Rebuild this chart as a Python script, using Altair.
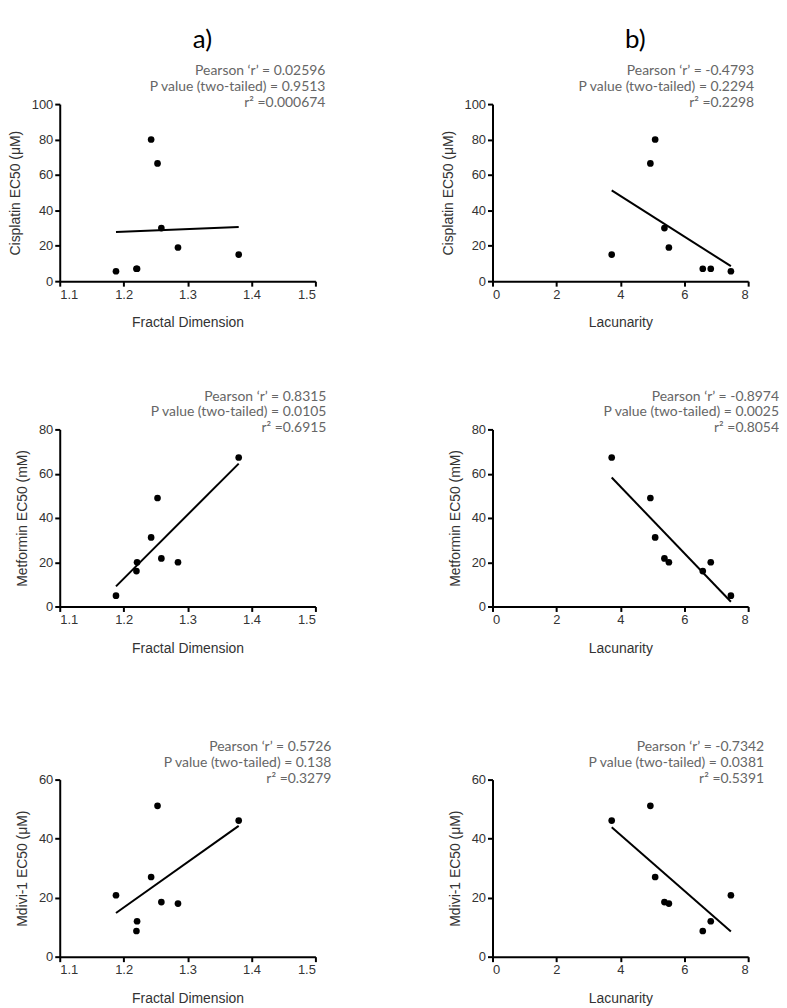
import altair as alt
import pandas as pd

# ---- data (8 cell lines) ----
fractal_dim = [1.188, 1.220, 1.221, 1.243, 1.253, 1.259, 1.285, 1.380]
lacunarity = [7.46, 6.58, 6.83, 5.09, 4.94, 5.38, 5.52, 3.73]
cisplatin_ec50 = [5.6, 7.0, 7.0, 80.0, 66.5, 30.0, 19.0, 15.0]
metformin_ec50 = [4.9, 16.0, 20.0, 31.2, 49.0, 21.7, 20.0, 67.3]
mdivi_ec50 = [20.8, 8.7, 12.0, 27.0, 51.1, 18.5, 18.0, 46.1]

fd_ticks = [1.1, 1.2, 1.3, 1.4, 1.5]
lac_ticks = [0, 2, 4, 6, 8]

headers = ["a)", "b)"]

stats_text = {
    "cis_fd": ["Pearson \u2018r\u2019 = 0.02596", "P value (two-tailed) = 0.9513", "r\u00b2 =0.000674"],
    "cis_lac": ["Pearson \u2018r\u2019 = -0.4793", "P value (two-tailed) = 0.2294", "r\u00b2 =0.2298"],
    "met_fd": ["Pearson \u2018r\u2019 = 0.8315", "P value (two-tailed) = 0.0105", "r\u00b2 =0.6915"],
    "met_lac": ["Pearson \u2018r\u2019 = -0.8974", "P value (two-tailed) = 0.0025", "r\u00b2 =0.8054"],
    "mdi_fd": ["Pearson \u2018r\u2019 = 0.5726", "P value (two-tailed) = 0.138", "r\u00b2 =0.3279"],
    "mdi_lac": ["Pearson \u2018r\u2019 = -0.7342", "P value (two-tailed) = 0.0381", "r\u00b2 =0.5391"],
}

W = 257
H = 178
AXFONT = "Liberation Sans"
TXTFONT = "Lato"


def axis(values, fmt, title, pad):
    return alt.Axis(
        values=values, format=fmt, title=title, titlePadding=pad, grid=False,
        domainColor="black", domainWidth=2, tickColor="black", tickWidth=2, tickSize=5,
        labelColor="#333333", labelFont=AXFONT, labelFontSize=13, labelPadding=2,
        titleColor="#333333", titleFont=AXFONT, titleFontSize=14, titleFontWeight="normal",
    )


def panel(xvals, yvals, xtitle, xdomain, xticks, xfmt, ytitle, ymax, ystep, lines, dx):
    df = pd.DataFrame({"x": xvals, "y": yvals})
    xenc = alt.X(
        "x:Q",
        scale=alt.Scale(domain=xdomain, nice=False, zero=False),
        axis=axis(xticks, xfmt, xtitle, 15),
    )
    yenc = alt.Y(
        "y:Q",
        scale=alt.Scale(domain=[0, ymax], nice=False),
        axis=axis(list(range(0, ymax + 1, ystep)), "d", ytitle, 9),
    )
    base = alt.Chart(df)
    fit = base.transform_regression("x", "y").mark_line(color="black", strokeWidth=2).encode(x=xenc, y=yenc)
    pts = base.mark_circle(size=45, color="black", opacity=1).encode(x=xenc, y=yenc)
    return alt.layer(fit, pts).properties(
        width=W,
        height=H,
        title=alt.TitleParams(
            text=lines,
            anchor="end",
            align="right",
            baseline="bottom",
            frame="group",
            offset=-26,
            dx=dx,
            font=TXTFONT,
            fontSize=14,
            fontWeight="normal",
            color="#666666",
            lineHeight=16,
        ),
    )


def spacer(h, label=""):
    df = pd.DataFrame({"t": [label]})
    return alt.Chart(df).mark_text(
        font=TXTFONT, fontSize=26, color="black", align="center", baseline="middle"
    ).encode(
        text="t:N", x=alt.value(W / 2 + 15), y=alt.value(30)
    ).properties(width=W, height=h)


p_cis_fd = panel(fractal_dim, cisplatin_ec50, "Fractal Dimension", [1.1, 1.5], fd_ticks, ".1f",
                 "Cisplatin EC50 (\u03bcM)", 100, 20, stats_text["cis_fd"], 10)
p_cis_lac = panel(lacunarity, cisplatin_ec50, "Lacunarity", [0, 8], lac_ticks, "d",
                  "Cisplatin EC50 (\u03bcM)", 100, 20, stats_text["cis_lac"], 6)
p_met_fd = panel(fractal_dim, metformin_ec50, "Fractal Dimension", [1.1, 1.5], fd_ticks, ".1f",
                 "Metformin EC50 (mM)", 80, 20, stats_text["met_fd"], 11)
p_met_lac = panel(lacunarity, metformin_ec50, "Lacunarity", [0, 8], lac_ticks, "d",
                  "Metformin EC50 (mM)", 80, 20, stats_text["met_lac"], 31)
p_mdi_fd = panel(fractal_dim, mdivi_ec50, "Fractal Dimension", [1.1, 1.5], fd_ticks, ".1f",
                 "Mdivi-1 EC50 (\u03bcM)", 60, 20, stats_text["mdi_fd"], 16)
p_mdi_lac = panel(lacunarity, mdivi_ec50, "Lacunarity", [0, 8], lac_ticks, "d",
                  "Mdivi-1 EC50 (\u03bcM)", 60, 20, stats_text["mdi_lac"], 16)

chart = alt.concat(
    spacer(94, headers[0]), spacer(94, headers[1]),
    p_cis_fd, p_cis_lac,
    spacer(149), spacer(149),
    p_met_fd, p_met_lac,
    spacer(174), spacer(174),
    p_mdi_fd, p_mdi_lac,
    columns=2,
    spacing={"row": 0, "column": 178},
    bounds="flush",
).properties(
    padding={"left": 0, "top": 0, "right": 0, "bottom": 0}
).configure_view(
    stroke=None
)

chart.save("out.html", embed_options={"renderer": "svg", "actions": False})
